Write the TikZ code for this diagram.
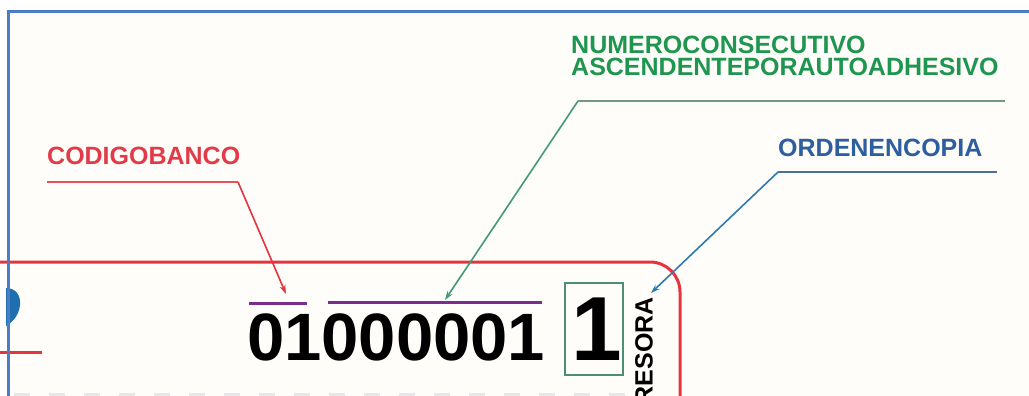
\documentclass[tikz,border=0pt]{standalone}
\usepackage{fontspec}
\setmainfont{Liberation Sans}
\usetikzlibrary{arrows.meta}

\definecolor{paper}{HTML}{FFFDF9}
\definecolor{framec}{HTML}{4C7DC4}
\definecolor{cardred}{HTML}{E6343F}
\definecolor{redtext}{HTML}{E23A48}
\definecolor{redlead}{HTML}{E8505A}
\definecolor{greentext}{HTML}{1E9650}
\definecolor{greenlead}{HTML}{6F9A80}
\definecolor{greenarrow}{HTML}{3E9A7A}
\definecolor{bluetext}{HTML}{2D5E9E}
\definecolor{bluelead}{HTML}{4B6E9C}
\definecolor{bluearrow}{HTML}{2C7AB0}
\definecolor{marker}{HTML}{7B2D8E}
\definecolor{boxc}{HTML}{4E8E76}
\definecolor{logoblue}{HTML}{1F6FB0}

\tikzset{
  label/.style={inner sep=0pt, anchor=base west, font=\bfseries\fontsize{25}{25}\selectfont},
  lead/.style={line width=1.6pt, line join=round},
  tip/.style={-{Stealth[length=9pt,width=6pt]}},
  overbar/.style={draw=marker, line width=3pt},
}

\begin{document}
\begin{tikzpicture}[x=1pt,y=-1pt]
  \useasboundingbox (0,0) rectangle (1029,396);
  \clip (0,0) rectangle (1029,396);

  % paper inside the frame
  \fill[paper] (8,12) rectangle (1029,396);

  % faint tops of the next printed line
  \draw[black!9, line width=5pt, dash pattern=on 16pt off 19pt] (14,395) -- (625,395);

  % card outline with rounded corner
  \draw[cardred, line width=3pt, rounded corners=30pt] (-10,262) -- (680,262) -- (680,430);
  \draw[cardred, line width=3pt] (0,352) -- (42,352);

  % logo fragment at the left edge
  \fill[logoblue] (6,288) .. controls (16,288) and (21,296) .. (20,305)
        .. controls (19,315) and (13,322) .. (6,326) -- cycle;

  % number printed on the card
  \node[inner sep=0pt, anchor=base west, font=\bfseries\fontsize{67}{67}\selectfont] (num) at (247,360) {01000001};
  \node[draw=boxc, line width=1.8pt, minimum width=58pt, minimum height=92pt, inner sep=0pt] (copybox) at (594,329) {};
  \node[inner sep=0pt, anchor=base, font=\bfseries\fontsize{91}{91}\selectfont] (copy) at (597,360) {1};
  \node[inner sep=0pt, anchor=east, rotate=90, font=\bfseries\fontsize{25}{25}\selectfont] (imp) at (644,297) {RESORA};

  % marks over the digit groups
  \draw[overbar] (249,303) coordinate (bankL) -- (307,303) coordinate (bankR);
  \draw[overbar] (328,302) coordinate (seqL) -- (542,302) coordinate (seqR);

  % labels
  \node[label, text=redtext] (bank) at (47,164) {CODIGOBANCO};
  \node[label, text=greentext, anchor=north west, align=left,
        font=\bfseries\fontsize{25}{22}\selectfont] (seq) at (571,36)
        {NUMEROCONSECUTIVO\\ASCENDENTEPORAUTOADHESIVO};
  \node[label, text=bluetext] (order) at (778,157) {ORDENENCOPIA};

  % leader lines
  \coordinate (bankA) at (47,182);
  \coordinate (bankB) at (238,182);
  \coordinate (bankT) at (286,294);
  \draw[lead, redlead] (bankA) -- (bankB);
  \draw[lead, cardred, tip] (bankB) -- (bankT);

  \coordinate (seqA) at (1005,101);
  \coordinate (seqB) at (578,101);
  \coordinate (seqT) at (445,300);
  \draw[lead, greenlead, line width=2pt] (seqA) -- (seqB);
  \draw[lead, greenarrow, tip] (seqB) -- (seqT);

  \coordinate (orderA) at (997,172);
  \coordinate (orderB) at (778,172);
  \coordinate (orderT) at (651,293);
  \draw[lead, bluelead, line width=2pt] (orderA) -- (orderB);
  \draw[lead, bluearrow, tip] (orderB) -- (orderT);

  % outer frame
  \draw[framec, line width=3pt] (8,400) -- (8,12) -- (1035,12);
\end{tikzpicture}
\end{document}
